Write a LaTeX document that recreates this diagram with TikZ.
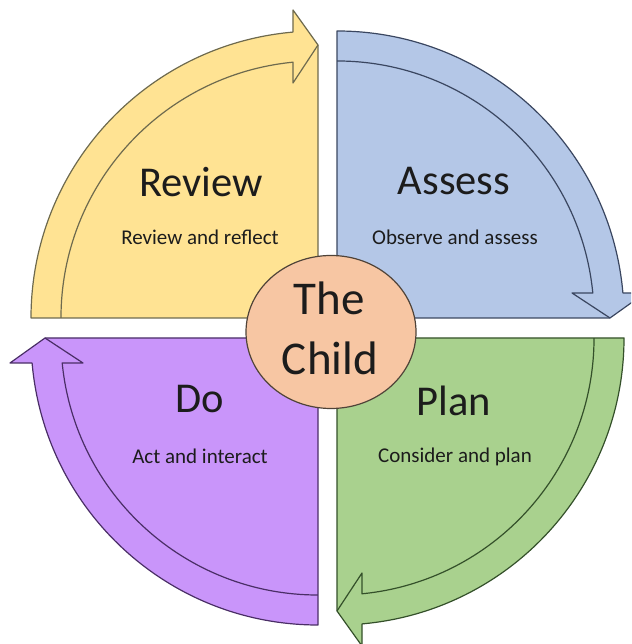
\documentclass[tikz,border=0pt]{standalone}
\usepackage{fontspec}
\setmainfont{Carlito}
\usepackage{tikz}
\usetikzlibrary{calc,positioning,shapes.geometric}
\definecolor{yellowfill}{HTML}{FFE393}
\definecolor{yellowline}{HTML}{6E6A4E}
\definecolor{bluefill}{HTML}{B4C7E7}
\definecolor{blueline}{HTML}{3A4660}
\definecolor{greenfill}{HTML}{A9D18E}
\definecolor{greenline}{HTML}{34502A}
\definecolor{purplefill}{HTML}{C995FA}
\definecolor{purpleline}{HTML}{4A2E66}
\definecolor{childfill}{HTML}{F7C6A3}
\definecolor{childline}{HTML}{4F4338}
\definecolor{ink}{HTML}{1C1C1C}
\tikzset{
  title/.style={text=ink, font=\fontsize{42.5}{46}\selectfont, anchor=base},
  sub/.style={text=ink, font=\fontsize{21}{24}\selectfont, anchor=base},
  bigtitle/.style={title, font=\fontsize{47}{50}\selectfont},
  child/.style={ellipse, fill=childfill, draw=childline, line width=1.2pt,
    minimum width=170pt, minimum height=153pt, inner sep=0pt},
  pics/quarter/.style 2 args={code={
    % quarter with its arrow band, drawn for the top-left one
    \filldraw[fill=#1, draw=#2, line width=1.2pt, line join=round]
      (0,0) -- (-287,0) arc[start angle=180, end angle=95, radius=287]
      -- (-25,308) -- (0,273) -- cycle;
    \draw[#2, line width=1.2pt, line join=round]
      (0,273) -- (-25,235) -- (-25,255.8)
      arc[start angle=95.58, end angle=180, radius=257];
  }},
}
\begin{document}
\begin{tikzpicture}[x=1pt, y=1pt]
  \useasboundingbox (0,0) rectangle (631,644);
  \clip (0,0) rectangle (631,644);

  \pic at (318,326) {quarter={yellowfill}{yellowline}};
  \pic[rotate=-90] at (337,326) {quarter={bluefill}{blueline}};
  \pic[rotate=180] at (337,306) {quarter={greenfill}{greenline}};
  \pic[rotate=90] at (318,306) {quarter={purplefill}{purpleline}};

  \node[title] (review) at (201,447) {Review};
  \node[sub] (reviewsub) at (200,399) {Review and reflect};
  \node[title] (assess) at (454,449) {Assess};
  \node[sub] (assesssub) at (455,399) {Observe and assess};
  \node[title] (do) at (200,231) {Do};
  \node[sub] (dosub) at (200,180) {Act and interact};
  \node[title] (plan) at (454,228) {Plan};
  \node[sub] (plansub) at (455,181) {Consider and plan};

  \node[child] (centre) at (331,312) {};
  \node[bigtitle] (the) at (329,329) {The};
  \node[bigtitle] (childtext) at (330,269) {Child};
\end{tikzpicture}
\end{document}
